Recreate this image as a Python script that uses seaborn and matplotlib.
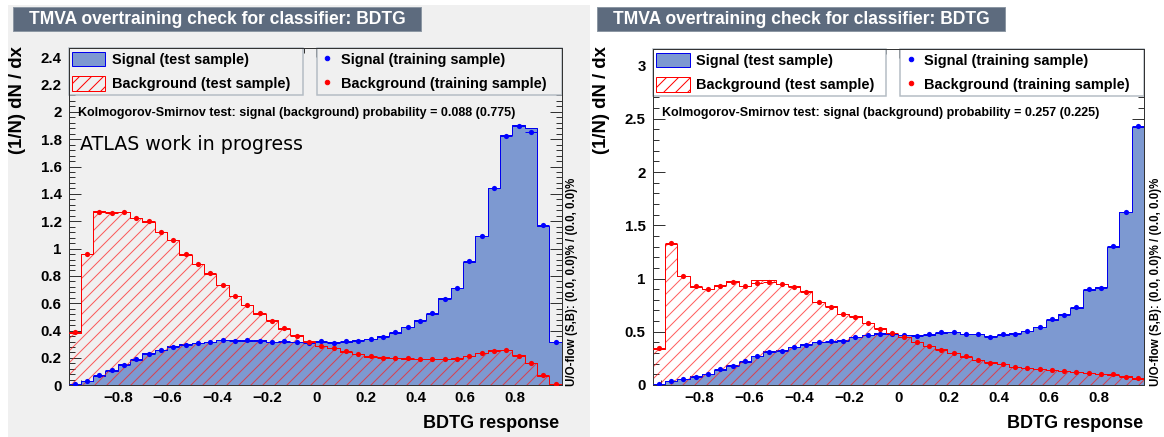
import numpy as np
import pandas as pd
import seaborn as sns
import matplotlib.pyplot as plt
from matplotlib.patches import Patch, Rectangle
from matplotlib.lines import Line2D
from matplotlib.ticker import MultipleLocator, FuncFormatter

# BDTG response, 40 bins per panel
left_range = (-1.0, 0.99)
right_range = (-0.985, 0.98)

left_sig_test = [0.005, 0.03, 0.07, 0.105, 0.155, 0.185, 0.235, 0.26, 0.285, 0.30,
                 0.31, 0.315, 0.33, 0.33, 0.325, 0.33, 0.32, 0.32, 0.32, 0.315,
                 0.32, 0.315, 0.32, 0.33, 0.34, 0.36, 0.385, 0.43, 0.475, 0.525,
                 0.635, 0.715, 0.905, 1.095, 1.44, 1.83, 1.905, 1.88, 1.165, 0.32]
left_sig_train = [0.007, 0.034, 0.075, 0.11, 0.15, 0.19, 0.23, 0.26, 0.28, 0.295,
                  0.307, 0.32, 0.33, 0.325, 0.33, 0.325, 0.32, 0.325, 0.315, 0.31,
                  0.325, 0.31, 0.325, 0.325, 0.34, 0.355, 0.39, 0.43, 0.47, 0.53,
                  0.63, 0.71, 0.91, 1.09, 1.445, 1.82, 1.90, 1.85, 1.17, 0.317]
left_bkg_test = [0.38, 0.96, 1.275, 1.265, 1.27, 1.225, 1.195, 1.12, 1.065, 0.955,
                 0.89, 0.815, 0.735, 0.655, 0.59, 0.525, 0.475, 0.415, 0.365, 0.325,
                 0.29, 0.275, 0.245, 0.23, 0.21, 0.205, 0.20, 0.195, 0.19, 0.195,
                 0.19, 0.20, 0.215, 0.235, 0.255, 0.26, 0.22, 0.16, 0.07, 0.012]
left_bkg_train = [0.39, 0.96, 1.27, 1.26, 1.27, 1.22, 1.20, 1.12, 1.06, 0.96,
                  0.885, 0.82, 0.73, 0.65, 0.59, 0.53, 0.47, 0.42, 0.36, 0.32,
                  0.29, 0.27, 0.25, 0.23, 0.214, 0.20, 0.20, 0.20, 0.19, 0.19,
                  0.195, 0.195, 0.217, 0.234, 0.25, 0.26, 0.214, 0.16, 0.075, 0.01]

right_sig_test = [0.006, 0.038, 0.055, 0.08, 0.105, 0.145, 0.185, 0.22, 0.27, 0.315,
                  0.325, 0.355, 0.385, 0.40, 0.405, 0.42, 0.45, 0.465, 0.485, 0.48,
                  0.47, 0.465, 0.47, 0.49, 0.50, 0.48, 0.475, 0.46, 0.47, 0.485,
                  0.505, 0.545, 0.615, 0.665, 0.725, 0.895, 0.92, 1.30, 1.625, 2.42]
right_sig_train = [0.007, 0.04, 0.053, 0.078, 0.10, 0.147, 0.18, 0.225, 0.27, 0.31,
                   0.32, 0.36, 0.38, 0.40, 0.41, 0.415, 0.45, 0.47, 0.48, 0.475,
                   0.47, 0.46, 0.475, 0.495, 0.495, 0.48, 0.48, 0.455, 0.475, 0.48,
                   0.51, 0.54, 0.62, 0.66, 0.73, 0.90, 0.915, 1.305, 1.62, 2.43]
right_bkg_test = [0.34, 1.32, 1.02, 0.92, 0.90, 0.94, 0.98, 0.93, 0.99, 0.99,
                  0.95, 0.93, 0.88, 0.78, 0.74, 0.665, 0.645, 0.58, 0.535, 0.48,
                  0.455, 0.405, 0.37, 0.335, 0.30, 0.265, 0.235, 0.215, 0.195, 0.17,
                  0.155, 0.15, 0.14, 0.13, 0.12, 0.115, 0.105, 0.095, 0.08, 0.06]
right_bkg_train = [0.35, 1.33, 1.02, 0.93, 0.90, 0.93, 0.97, 0.93, 0.96, 0.97,
                   0.95, 0.92, 0.87, 0.78, 0.735, 0.67, 0.64, 0.585, 0.53, 0.485,
                   0.45, 0.40, 0.37, 0.33, 0.30, 0.27, 0.235, 0.21, 0.20, 0.165,
                   0.156, 0.147, 0.14, 0.13, 0.125, 0.116, 0.10, 0.10, 0.078, 0.063]

title = "TMVA overtraining check for classifier: BDTG"
left_ks = "Kolmogorov-Smirnov test: signal (background) probability = 0.088 (0.775)"
right_ks = "Kolmogorov-Smirnov test: signal (background) probability = 0.257 (0.225)"
uo_text = "U/O-flow (S,B): (0.0, 0.0)% / (0.0, 0.0)%"
legend_test = ["Signal (test sample)", "Background (test sample)"]
legend_train = ["Signal (training sample)", "Background (training sample)"]

sns.set_style("ticks")
plt.rcParams['font.family'] = ['Liberation Sans', 'DejaVu Sans']
plt.rcParams['hatch.linewidth'] = 1.0
plt.rcParams['text.color'] = 'black'

W, H = 1164, 437
fig = plt.figure(figsize=(W / 72, H / 72), dpi=72)
fig.patch.set_facecolor('white')


def fx(x):
    return x / W


def fy(y):
    return 1 - y / H


sig_fill = '#7d99d1'
sig_line = '#0000ee'
bkg_line = '#ff0000'


def draw_panel(ax, rng, sig_test, sig_train, bkg_test, bkg_train, ymax, ystep, yminor, bg):
    edges = np.linspace(rng[0], rng[1], len(sig_test) + 1)
    centers = (edges[:-1] + edges[1:]) / 2
    half = (edges[1] - edges[0]) / 2
    bins = list(edges)
    df = pd.DataFrame({'x': centers, 'sig_test': sig_test, 'sig_train': sig_train,
                       'bkg_test': bkg_test, 'bkg_train': bkg_train})

    # test samples as histograms
    sns.histplot(data=df, x='x', weights='sig_test', bins=bins, element='step', fill=True,
                 color=sig_fill, facecolor=sig_fill, edgecolor=sig_line, linewidth=1,
                 ax=ax, zorder=1)
    sns.histplot(data=df, x='x', weights='bkg_test', bins=bins, element='step', fill=True,
                 color=bkg_line, facecolor='none', edgecolor=(1, 0.1, 0.1, 0.7), hatch='//',
                 linewidth=0, ax=ax, zorder=2)
    sns.histplot(data=df, x='x', weights='bkg_test', bins=bins, element='step', fill=False,
                 color=bkg_line, linewidth=1, ax=ax, zorder=3)

    # training samples as points with bin-width bars
    for col, c in [('sig_train', 'blue'), ('bkg_train', 'red')]:
        ax.errorbar(df['x'], df[col], xerr=half, fmt='none', ecolor=c, elinewidth=1, zorder=4)
        sns.scatterplot(data=df, x='x', y=col, color=c, s=27, linewidth=0, ax=ax,
                        legend=False, zorder=5)

    ax.set_facecolor(bg)
    ax.set_xlim(rng)
    ax.set_ylim(0, ymax)
    ax.set_xlabel('')
    ax.set_ylabel('')
    ax.set_xticks(np.round(np.arange(-0.8, 0.81, 0.2), 2))
    ax.xaxis.set_minor_locator(MultipleLocator(0.05))
    ax.set_yticks(np.round(np.arange(0, ymax, ystep), 2))
    ax.yaxis.set_minor_locator(MultipleLocator(yminor))
    fmt = FuncFormatter(lambda v, p: f'{round(v, 3) + 0:g}'.replace('-', '\u2212'))
    ax.xaxis.set_major_formatter(fmt)
    ax.yaxis.set_major_formatter(fmt)
    ax.tick_params(which='both', direction='in', top=True, right=True, width=1,
                   color='#333333', labelcolor='black', labelsize=15)
    ax.tick_params(axis='y', which='major', length=12, pad=7)
    ax.tick_params(axis='y', which='minor', length=6)
    ax.tick_params(axis='x', which='major', length=9, pad=6)
    ax.tick_params(axis='x', which='minor', length=5)
    for lab in ax.get_xticklabels() + ax.get_yticklabels():
        lab.set_fontweight('bold')
    for s in ax.spines.values():
        s.set_color('#333333')
        s.set_linewidth(1)

    # two legend boxes along the top (axis ticks drawn over them, as in ROOT)
    h1 = [Patch(facecolor=sig_fill, edgecolor=sig_line, lw=1),
          Patch(facecolor='none', edgecolor=bkg_line, hatch='//', lw=1)]
    h2 = [Line2D([], [], ls='none', marker='o', color='blue', markersize=4.5),
          Line2D([], [], ls='none', marker='o', color='red', markersize=4.5)]
    common = dict(loc='upper left', mode='expand', borderaxespad=0, fancybox=False,
                  framealpha=1, facecolor=bg, edgecolor='#b4bcc4',
                  prop={'weight': 'bold', 'size': 14.5}, labelspacing=0.6, borderpad=0.25,
                  handleheight=1.2)
    leg1 = ax.legend(h1, legend_test, bbox_to_anchor=(0, 0, 0.475, 1), handlelength=2.3,
                     handletextpad=0.45, **common)
    leg1.get_frame().set_linewidth(1.5)
    leg1.set_zorder(2.2)
    ax.add_artist(leg1)
    leg2 = ax.legend(h2, legend_train, bbox_to_anchor=(0.503, 0, 0.497, 1), handlelength=1.0,
                     handletextpad=0.4, **common)
    leg2.get_frame().set_linewidth(1.5)
    leg2.set_zorder(2.2)


# panel backgrounds
fig.patches.append(Rectangle((fx(8), 0), fx(582), 1 - 5 / H, transform=fig.transFigure,
                             facecolor='#f0f0f0', edgecolor='none', zorder=-5))

ax1 = fig.add_axes([fx(68.5), fy(385.3), (561.7 - 68.5) / W, (385.3 - 48) / H])
draw_panel(ax1, left_range, left_sig_test, left_sig_train, left_bkg_test, left_bkg_train,
           2.467, 0.2, 0.04, '#f0f0f0')
ax2 = fig.add_axes([fx(652.7), fy(385), (1144 - 652.7) / W, (385 - 49) / H])
draw_panel(ax2, right_range, right_sig_test, right_sig_train, right_bkg_test, right_bkg_train,
           3.155, 0.5, 0.1, '#ffffff')

# titles, labels and annotations
for x0, ax_right, ylab_x in [(13, 559, 18), (597, 1143, 601)]:
    fig.patches.append(Rectangle((fx(x0), fy(31)), 408 / W, 24 / H, transform=fig.transFigure,
                                 facecolor='#5d6b7e', edgecolor='#8c97a3', lw=1))
    fig.text(fx(x0 + 204), fy(19.5), title, color='white', weight='bold', fontsize=17.5,
             ha='center', va='center')
    fig.text(fx(ylab_x), fy(46), '(1/N) dN / dx', rotation=90, ha='center', va='top',
             weight='bold', fontsize=18.5)
    fig.text(fx(ax_right), fy(423), 'BDTG response', ha='right', va='center',
             weight='bold', fontsize=18)
    fig.text(fx(ax_right + 13), fy(386), uo_text, rotation=90, ha='center', va='bottom',
             weight='bold', fontsize=11.5)

fig.text(fx(78), fy(113), left_ks, weight='bold', fontsize=12.5, va='center')
fig.text(fx(662), fy(113), right_ks, weight='bold', fontsize=12.5, va='center')
fig.text(fx(80), fy(145), 'ATLAS work in progress', family='DejaVu Sans', fontsize=19,
         color='black', va='center')

fig.savefig('out.png', dpi=72)
